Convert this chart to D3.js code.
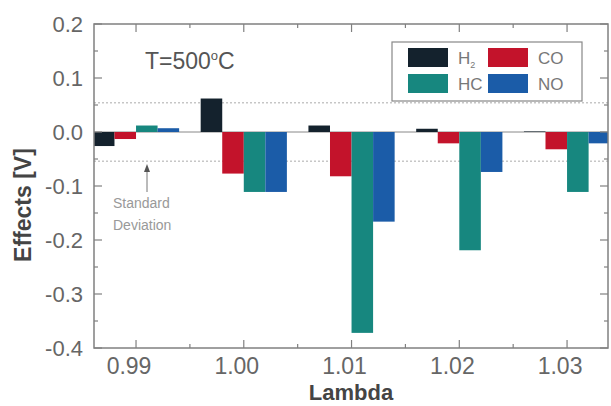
<!DOCTYPE html>
<html>
<head>
<meta charset="utf-8">
<script src="https://cdn.jsdelivr.net/npm/d3@7"></script>
<style>
  body { margin: 0; background: #fff; }
  text { font-family: "Liberation Sans", Arial, sans-serif; }
</style>
</head>
<body>
<div id="chart"></div>
<script>
// data
const lambdas = [0.99, 1.00, 1.01, 1.02, 1.03];
const gases = ["H2", "CO", "HC", "NO"];
const h2 = [-0.026, 0.062, 0.012, 0.006, 0.001];
const co = [-0.013, -0.077, -0.082, -0.021, -0.032];
const hc = [0.012, -0.111, -0.372, -0.219, -0.111];
const no = [0.007, -0.111, -0.166, -0.074, -0.021];
const yTicks = [0.2, 0.1, 0.0, -0.1, -0.2, -0.3, -0.4];
const stdDev = 0.054;

const series = { H2: h2, CO: co, HC: hc, NO: no };
const colors = { H2: "#14222d", CO: "#c3132b", HC: "#17877f", NO: "#1b5ca8" };

const W = 611, H = 406;
const m = { left: 94, right: 3, top: 24, bottom: 58 };

const svg = d3.select("#chart").append("svg")
  .attr("width", W)
  .attr("height", H);

const x = d3.scaleLinear().domain([0.9861, 1.0338]).range([m.left, W - m.right]);
const y = d3.scaleLinear().domain([-0.4, 0.2]).range([H - m.bottom, m.top]);
const bw = 0.002; // bar width in lambda units

svg.append("defs").append("clipPath").attr("id", "clip")
  .append("rect")
  .attr("x", m.left).attr("y", m.top)
  .attr("width", W - m.right - m.left).attr("height", H - m.bottom - m.top);

const plot = svg.append("g").attr("clip-path", "url(#clip)");

// zero line and standard deviation band
plot.append("line")
  .attr("x1", m.left).attr("x2", W - m.right)
  .attr("y1", y(0)).attr("y2", y(0))
  .attr("stroke", "#888").attr("stroke-width", 1);

[stdDev, -stdDev].forEach(v => {
  plot.append("line")
    .attr("x1", m.left).attr("x2", W - m.right)
    .attr("y1", y(v)).attr("y2", y(v))
    .attr("stroke", "#aaa").attr("stroke-width", 1)
    .attr("stroke-dasharray", "2,2");
});

// bars
gases.forEach((g, i) => {
  plot.selectAll(".bar-" + g)
    .data(lambdas)
    .enter()
    .append("rect")
    .attr("x", (d) => x(d - 2 * bw + i * bw))
    .attr("width", x(bw) - x(0))
    .attr("y", (d, j) => y(Math.max(0, series[g][j])))
    .attr("height", (d, j) => Math.abs(y(series[g][j]) - y(0)))
    .attr("fill", colors[g]);
});

// frame
svg.append("rect")
  .attr("x", m.left).attr("y", m.top)
  .attr("width", W - m.right - m.left).attr("height", H - m.bottom - m.top)
  .attr("fill", "none").attr("stroke", "#808080").attr("stroke-width", 1.5);

// axes (ticks inside)
const axColor = "#808080";
const xMinor = d3.range(0.985, 1.035, 0.005).filter(v => v > 0.9862 && v < 1.0337);
const yMinor = d3.range(-0.35, 0.2, 0.1);

function ticksX(g, dir) {
  g.selectAll(".maj").data(lambdas).enter().append("line")
    .attr("x1", d => x(d)).attr("x2", d => x(d))
    .attr("y1", 0).attr("y2", dir * 8)
    .attr("stroke", axColor).attr("stroke-width", 1.2);
  g.selectAll(".min").data(xMinor.filter(v => !lambdas.some(l => Math.abs(l - v) < 1e-6))).enter().append("line")
    .attr("x1", d => x(d)).attr("x2", d => x(d))
    .attr("y1", 0).attr("y2", dir * 4)
    .attr("stroke", axColor).attr("stroke-width", 1.2);
}
function ticksY(g, dir) {
  g.selectAll(".maj").data(yTicks).enter().append("line")
    .attr("y1", d => y(d)).attr("y2", d => y(d))
    .attr("x1", 0).attr("x2", dir * 8)
    .attr("stroke", axColor).attr("stroke-width", 1.2);
  g.selectAll(".min").data(yMinor).enter().append("line")
    .attr("y1", d => y(d)).attr("y2", d => y(d))
    .attr("x1", 0).attr("x2", dir * 4)
    .attr("stroke", axColor).attr("stroke-width", 1.2);
}
ticksX(svg.append("g").attr("transform", `translate(0,${H - m.bottom})`), -1);
ticksX(svg.append("g").attr("transform", `translate(0,${m.top})`), 1);
ticksY(svg.append("g").attr("transform", `translate(${m.left},0)`), 1);
ticksY(svg.append("g").attr("transform", `translate(${W - m.right},0)`), -1);

// tick labels
svg.selectAll(".xl").data(lambdas).enter().append("text")
  .attr("x", d => x(d) - 7)
  .attr("y", H - m.bottom + 26)
  .attr("text-anchor", "middle")
  .attr("font-size", 23)
  .attr("fill", "#666")
  .text(d => d3.format(".2f")(d));

svg.selectAll(".yl").data(yTicks).enter().append("text")
  .attr("x", m.left - 11)
  .attr("y", d => y(d) + 8)
  .attr("text-anchor", "end")
  .attr("font-size", 22)
  .attr("fill", "#666")
  .text(d => d3.format(".1f")(d).replace("−", "-"));

// axis titles
svg.append("text")
  .attr("x", 351).attr("y", 400)
  .attr("text-anchor", "middle")
  .attr("font-size", 22).attr("font-weight", "bold")
  .attr("fill", "#444")
  .text("Lambda");

svg.append("text")
  .attr("transform", "translate(31,205) rotate(-90)")
  .attr("text-anchor", "middle")
  .attr("font-size", 23).attr("font-weight", "bold")
  .attr("fill", "#444")
  .text("Effects [V]");

// temperature annotation
const tText = svg.append("text")
  .attr("x", 145).attr("y", 69)
  .attr("font-size", 23)
  .attr("fill", "#555");
tText.append("tspan").text("T=500");
tText.append("tspan").attr("dy", -9).attr("font-size", 13).text("o");
tText.append("tspan").attr("dy", 9).text("C");

// standard deviation note
svg.append("line")
  .attr("x1", 147).attr("x2", 147)
  .attr("y1", 192).attr("y2", 170)
  .attr("stroke", "#777").attr("stroke-width", 1);
svg.append("path")
  .attr("d", "M144,172 L147,164 L150,172 Z")
  .attr("fill", "#555");
svg.append("text").attr("x", 113).attr("y", 208)
  .attr("font-size", 14).attr("fill", "#999").text("Standard");
svg.append("text").attr("x", 113).attr("y", 230)
  .attr("font-size", 14).attr("fill", "#999").text("Deviation");

// legend
const legend = svg.append("g");
legend.append("rect")
  .attr("x", 392).attr("y", 42).attr("width", 190).attr("height", 59)
  .attr("fill", "#fff").attr("stroke", "#888").attr("stroke-width", 1.2);

const legendPos = [
  { g: "H2", x: 408, y: 48 },
  { g: "CO", x: 488, y: 48 },
  { g: "HC", x: 408, y: 74 },
  { g: "NO", x: 488, y: 74 }
];
legendPos.forEach(p => {
  legend.append("rect")
    .attr("x", p.x).attr("y", p.y).attr("width", 40).attr("height", 19)
    .attr("fill", colors[p.g]);
  const t = legend.append("text")
    .attr("x", p.x + 50).attr("y", p.y + 16)
    .attr("font-size", 17).attr("fill", "#777");
  if (p.g === "H2") {
    t.append("tspan").text("H");
    t.append("tspan").attr("dy", 4).attr("font-size", 9).text("2");
  } else {
    t.text(p.g);
  }
});
</script>
</body>
</html>
